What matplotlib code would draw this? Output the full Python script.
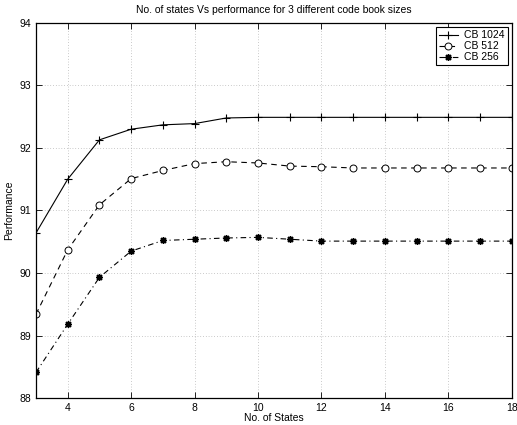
import matplotlib
matplotlib.use("Agg")
import matplotlib.pyplot as plt

plt.rcParams['font.family'] = ['Liberation Sans', 'DejaVu Sans']

states = list(range(3, 19))
cb1024 = [90.64, 91.50, 92.13, 92.30, 92.37, 92.39, 92.48, 92.49, 92.49, 92.49,
          92.49, 92.49, 92.49, 92.49, 92.49, 92.49]
cb512 = [89.34, 90.37, 91.09, 91.51, 91.64, 91.75, 91.78, 91.76, 91.71, 91.70,
         91.68, 91.68, 91.68, 91.68, 91.68, 91.68]
cb256 = [88.41, 89.18, 89.93, 90.35, 90.52, 90.54, 90.56, 90.57, 90.54, 90.51,
         90.51, 90.51, 90.51, 90.51, 90.51, 90.51]

fig = plt.figure(figsize=(5.17, 4.25), dpi=100)
ax = fig.add_axes([0.0696, 0.0635, 0.9204, 0.8825])

ax.plot(states, cb1024, '-', color='black', marker='+', markersize=6,
        linewidth=0.8, markeredgewidth=0.8, label='CB 1024')
ax.plot(states, cb512, '--', color='black', marker='o', markersize=5,
        markerfacecolor='white', linewidth=0.8, markeredgewidth=0.7,
        dashes=(5, 4), label='CB 512')
ax.plot(states, cb256, '-.', color='black', marker=(8, 2, 0), markersize=5,
        linewidth=0.8, markeredgewidth=1.0, dashes=(5, 3, 1, 3), label='CB 256')

ax.set_xlim(3, 18)
ax.set_ylim(88, 94)
ax.set_xticks(range(4, 19, 2))
ax.set_yticks(range(88, 95))
ax.tick_params(direction='in', top=True, right=True, labelsize=7.5,
               length=4, width=0.6)
for s in ax.spines.values():
    s.set_linewidth(0.9)
ax.grid(True, linestyle=(0, (1, 3)), color='#999999', linewidth=0.5)

ax.set_title("No. of states Vs performance for 3 different code book sizes",
             fontsize=7.5, pad=7)
ax.set_xlabel("No. of States", fontsize=7.5, labelpad=0)
ax.set_ylabel("Performance", fontsize=7.5, labelpad=4)

leg = ax.legend(loc='upper right', fontsize=7.5, fancybox=False,
                framealpha=1, edgecolor='black', handlelength=1.8,
                borderaxespad=0.4, labelspacing=0.1, borderpad=0.3,
                handletextpad=0.6)
leg.get_frame().set_linewidth(0.8)

fig.savefig("out.png", dpi=100)
